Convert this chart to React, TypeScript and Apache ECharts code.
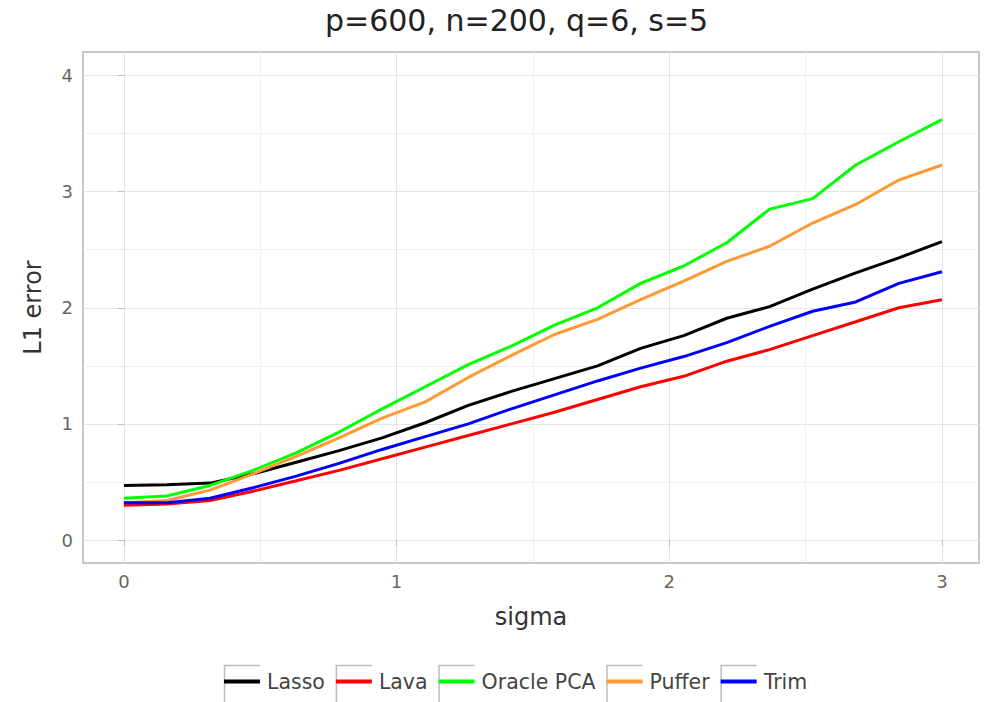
import React, { useEffect, useRef } from "react";
import * as echarts from "echarts";

const sigma = [0, 0.158, 0.316, 0.474, 0.632, 0.789, 0.947, 1.105, 1.263, 1.421, 1.579, 1.737, 1.895, 2.053, 2.211, 2.368, 2.526, 2.684, 2.842, 3.0];
const lasso = [0.47, 0.475, 0.49, 0.57, 0.67, 0.77, 0.88, 1.01, 1.16, 1.28, 1.39, 1.5, 1.65, 1.76, 1.91, 2.01, 2.16, 2.3, 2.43, 2.57];
const lava = [0.3, 0.31, 0.34, 0.42, 0.51, 0.6, 0.7, 0.8, 0.9, 1.0, 1.1, 1.21, 1.32, 1.41, 1.54, 1.64, 1.76, 1.88, 2.0, 2.07];
const oraclePCA = [0.36, 0.38, 0.47, 0.6, 0.75, 0.93, 1.13, 1.32, 1.51, 1.67, 1.85, 2.0, 2.21, 2.36, 2.56, 2.85, 2.94, 3.23, 3.43, 3.62];
const puffer = [0.32, 0.34, 0.43, 0.57, 0.72, 0.88, 1.05, 1.19, 1.4, 1.59, 1.77, 1.9, 2.07, 2.23, 2.4, 2.53, 2.73, 2.89, 3.1, 3.23];
const trim = [0.32, 0.32, 0.36, 0.45, 0.55, 0.66, 0.78, 0.89, 1.0, 1.13, 1.25, 1.37, 1.48, 1.58, 1.7, 1.84, 1.97, 2.05, 2.21, 2.31];

const seriesNames = ["Lasso", "Lava", "Oracle PCA", "Puffer", "Trim"];
const seriesValues = [lasso, lava, oraclePCA, puffer, trim];
const seriesColors = ["#000000", "#ff0000", "#00ff00", "#ff9933", "#0000ff"];

const xMajorTicks = [0, 1, 2, 3];
const xMinorTicks = [0.5, 1.5, 2.5];
const yMajorTicks = [0, 1, 2, 3, 4];
const yMinorTicks = [0.5, 1.5, 2.5, 3.5];

const titleText = "p=600, n=200, q=6, s=5";
const xName = "sigma";
const yName = "L1 error";

const FONT = "DejaVu Sans";
const W = 984;
const H = 702;

export default function App() {
  const ref = useRef<HTMLDivElement>(null);
  useEffect(() => {
    document.body.style.margin = "0";
    if (!ref.current) return;
    const chart = echarts.init(ref.current, undefined, { renderer: "svg" });

    const legendLeft = 224;
    const legendItemW = 36;
    const legendGap = 11;
    const legendFontSize = 20.5;
    const legendTextPad = 2;
    const titleFontSize = 30;
    const canvas = document.createElement("canvas");
    const ctx = canvas.getContext("2d");
    const measure = (t: string, size: number) => {
      if (!ctx) return t.length * size * 0.58;
      ctx.font = `normal normal ${size}px ${FONT}`;
      return ctx.measureText(t).width;
    };
    const widths = seriesNames.map((n) => measure(n, legendFontSize));
    const frames: any[] = [];
    let x = legendLeft;
    widths.forEach((w) => {
      frames.push({
        type: "polyline",
        shape: { points: [[x + 0.5, H], [x + 0.5, 665.5], [x + legendItemW, 665.5]] },
        style: { stroke: "#bdbdbd", lineWidth: 1.5, fill: null },
        silent: true,
      });
      x += legendItemW + 5 + legendTextPad + w + legendGap;
    });
    const titleW = measure(titleText, titleFontSize);

    const xMin = -0.15;
    const xMax = 3.136;
    const yMin = -0.198;
    const yMax = 4.203;

    const option: any = {
      animation: false,
      backgroundColor: "#ffffff",
      title: {
        text: titleText,
        left: Math.round(517 - titleW / 2),
        top: 5,
        padding: 0,
        textStyle: { fontFamily: FONT, fontSize: titleFontSize, fontWeight: "normal", color: "#222222" },
      },
      grid: {
        left: 83,
        right: 5,
        top: 52,
        bottom: 139,
        show: true,
        borderColor: "#c8c8c8",
        borderWidth: 2,
        backgroundColor: "#ffffff",
      },
      legend: {
        left: legendLeft,
        top: 671,
        padding: 0,
        itemWidth: legendItemW,
        itemHeight: 4,
        itemGap: legendGap,
        icon: "rect",
        selectedMode: false,
        data: seriesNames,
        textStyle: { fontFamily: FONT, fontSize: legendFontSize, color: "#444444", padding: [0, 0, 0, legendTextPad] },
      },
      graphic: frames,
      xAxis: [
        {
          type: "value",
          min: xMin,
          max: xMax,
          position: "bottom",
          name: xName,
          nameLocation: "middle",
          nameGap: 42,
          nameTextStyle: { fontFamily: FONT, fontSize: 24, color: "#333333" },
          axisLine: { show: false },
          axisTick: { show: true, customValues: xMajorTicks, length: 6, lineStyle: { color: "#c0c0c0", width: 1 } },
          axisLabel: { customValues: xMajorTicks, margin: 9, fontFamily: FONT, fontSize: 18, color: "#666666" },
          splitLine: { show: true, lineStyle: { color: "#e4e4e4", width: 1 } },
        },
        {
          type: "value",
          min: xMin,
          max: xMax,
          position: "bottom",
          axisLine: { show: false },
          axisTick: { show: true, customValues: xMinorTicks, length: 4, lineStyle: { color: "#e6e6e6", width: 1 } },
          axisLabel: { show: false, customValues: xMinorTicks },
          splitLine: { show: true, lineStyle: { color: "#f1f1f1", width: 1 } },
        },
      ],
      yAxis: [
        {
          type: "value",
          min: yMin,
          max: yMax,
          position: "left",
          name: yName,
          nameLocation: "middle",
          nameRotate: 90,
          nameGap: 38,
          nameTextStyle: { fontFamily: FONT, fontSize: 24, color: "#333333" },
          axisLine: { show: false },
          axisTick: { show: true, customValues: yMajorTicks, length: 6, lineStyle: { color: "#c0c0c0", width: 1 } },
          axisLabel: { customValues: yMajorTicks, margin: 10, fontFamily: FONT, fontSize: 18, color: "#666666" },
          splitLine: { show: true, lineStyle: { color: "#e4e4e4", width: 1 } },
        },
        {
          type: "value",
          min: yMin,
          max: yMax,
          position: "left",
          axisLine: { show: false },
          axisTick: { show: true, customValues: yMinorTicks, length: 4, lineStyle: { color: "#e6e6e6", width: 1 } },
          axisLabel: { show: false, customValues: yMinorTicks },
          splitLine: { show: true, lineStyle: { color: "#f1f1f1", width: 1 } },
        },
      ],
      series: seriesNames.map((name, i) => ({
        name,
        type: "line",
        xAxisIndex: 0,
        yAxisIndex: 0,
        showSymbol: false,
        symbol: "none",
        color: seriesColors[i],
        lineStyle: { color: seriesColors[i], width: 3 },
        data: sigma.map((s, j) => [s, seriesValues[i][j]]),
      })),
    };
    chart.setOption(option);
    return () => chart.dispose();
  }, []);
  return <div ref={ref} style={{ width: W, height: H }} />;
}
